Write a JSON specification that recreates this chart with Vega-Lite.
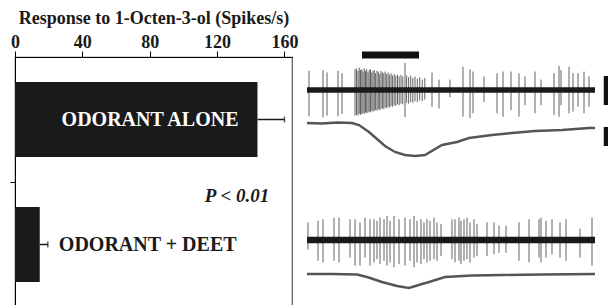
{
  "$schema": "https://vega.github.io/schema/vega-lite/v6.json",
  "background": "white",
  "padding": {"left": 8, "top": 8, "right": 0, "bottom": 0},
  "bounds": "flush",
  "spacing": 15,
  "config": {
    "view": {"stroke": null},
    "font": "Times New Roman, Liberation Serif, serif",
    "text": {"font": "Times New Roman, Liberation Serif, serif"},
    "axis": {"labelFont": "Times New Roman, Liberation Serif, serif", "titleFont": "Times New Roman, Liberation Serif, serif"}
  },
  "datasets": {
    "bars": [
      {"condition": "ODORANT ALONE", "mean": 144, "hi": 160},
      {"condition": "ODORANT + DEET", "mean": 14.7, "hi": 19.5}
    ],
    "baselineA": [{"t0": 0, "t1": 2880, "lo": -0.17, "hi": 0.17}],
    "baselineC": [{"t0": 0, "t1": 2880, "lo": -0.2, "hi": 0.2}],
    "stimulus": [{"start": 550, "end": 1120, "level": 2.19}],
    "scaleA": [{"t": 2995, "top": 0.875, "bottom": -0.94}],
    "scaleB": [{"t": 2995, "top": -0.4, "bottom": -2.3}],
    "spikesA": [
      {"t": 20, "up": 1.2, "down": -1.65}, {"t": 160, "up": 1.25, "down": -1.7}, {"t": 200, "up": 1.1, "down": -1.6},
      {"t": 310, "up": 1.2, "down": -1.65}, {"t": 350, "up": 1.05, "down": -1.5},
      {"t": 480, "up": 1.3, "down": -1.6}, {"t": 495, "up": 1.35, "down": -1.55}, {"t": 510, "up": 1.2, "down": -1.6},
      {"t": 522, "up": 1.4, "down": -1.5}, {"t": 535, "up": 1.25, "down": -1.55}, {"t": 548, "up": 1.3, "down": -1.5},
      {"t": 560, "up": 1.15, "down": -1.45}, {"t": 572, "up": 1.35, "down": -1.5}, {"t": 585, "up": 1.2, "down": -1.4},
      {"t": 597, "up": 1.3, "down": -1.45}, {"t": 610, "up": 1.1, "down": -1.4}, {"t": 622, "up": 1.25, "down": -1.35},
      {"t": 635, "up": 1.3, "down": -1.4}, {"t": 648, "up": 1.1, "down": -1.3}, {"t": 660, "up": 1.2, "down": -1.35},
      {"t": 673, "up": 1.25, "down": -1.3}, {"t": 686, "up": 1.05, "down": -1.25}, {"t": 700, "up": 1.2, "down": -1.3},
      {"t": 713, "up": 1.15, "down": -1.2}, {"t": 727, "up": 1.0, "down": -1.25}, {"t": 740, "up": 1.2, "down": -1.2},
      {"t": 754, "up": 1.1, "down": -1.15}, {"t": 768, "up": 1.05, "down": -1.2}, {"t": 782, "up": 1.15, "down": -1.1},
      {"t": 797, "up": 1.0, "down": -1.15}, {"t": 811, "up": 1.1, "down": -1.05}, {"t": 826, "up": 0.95, "down": -1.1},
      {"t": 841, "up": 1.05, "down": -1.0}, {"t": 856, "up": 0.9, "down": -1.05}, {"t": 872, "up": 1.0, "down": -0.95},
      {"t": 888, "up": 0.9, "down": -1.0}, {"t": 905, "up": 0.95, "down": -0.9}, {"t": 922, "up": 0.85, "down": -0.95},
      {"t": 940, "up": 0.95, "down": -0.85}, {"t": 958, "up": 0.85, "down": -0.9}, {"t": 980, "up": 1.69, "down": -1.69},
      {"t": 996, "up": 0.9, "down": -0.8}, {"t": 1016, "up": 0.8, "down": -0.85}, {"t": 1037, "up": 0.9, "down": -0.75},
      {"t": 1058, "up": 0.75, "down": -0.8}, {"t": 1080, "up": 0.85, "down": -0.7}, {"t": 1103, "up": 0.7, "down": -0.75},
      {"t": 1127, "up": 0.8, "down": -0.65}, {"t": 1152, "up": 0.65, "down": -0.7}, {"t": 1178, "up": 0.75, "down": -0.6},
      {"t": 1250, "up": 1.1, "down": -1.05}, {"t": 1320, "up": 0.65, "down": -1.15}, {"t": 1430, "up": 0.65, "down": -0.45},
      {"t": 1560, "up": 1.45, "down": -1.67}, {"t": 1630, "up": 1.3, "down": -1.77}, {"t": 1660, "up": 1.15, "down": -1.45},
      {"t": 1770, "up": 0.85, "down": -0.75}, {"t": 1900, "up": 1.05, "down": -1.45}, {"t": 1960, "up": 1.15, "down": -1.67},
      {"t": 2040, "up": 1.15, "down": -1.25}, {"t": 2120, "up": 1.05, "down": -1.67}, {"t": 2180, "up": 0.85, "down": -0.95},
      {"t": 2280, "up": 1.15, "down": -1.45}, {"t": 2340, "up": 0.65, "down": -0.95}, {"t": 2470, "up": 1.05, "down": -1.56},
      {"t": 2520, "up": 1.5, "down": -1.67}, {"t": 2540, "up": 1.25, "down": -0.95}, {"t": 2620, "up": 1.46, "down": -1.46},
      {"t": 2660, "up": 1.05, "down": -1.35}, {"t": 2710, "up": 1.05, "down": -1.05}, {"t": 2770, "up": 1.15, "down": -1.46},
      {"t": 2820, "up": 0.85, "down": -1.05}
    ],
    "spikesC": [
      {"t": 10, "up": 1.1, "down": -0.6}, {"t": 110, "up": 1.2, "down": -1.3}, {"t": 160, "up": 1.3, "down": -1.4},
      {"t": 270, "up": 1.4, "down": -1.3}, {"t": 320, "up": 1.4, "down": -1.4}, {"t": 430, "up": 1.3, "down": -1.1},
      {"t": 480, "up": 1.3, "down": -1.6}, {"t": 530, "up": 1.1, "down": -1.6}, {"t": 580, "up": 1.4, "down": -1.1},
      {"t": 630, "up": 1.3, "down": -1.6}, {"t": 670, "up": 1.3, "down": -1.4}, {"t": 700, "up": 1.2, "down": -1.2},
      {"t": 730, "up": 1.4, "down": -1.5}, {"t": 770, "up": 1.3, "down": -1.3}, {"t": 800, "up": 1.5, "down": -1.6},
      {"t": 830, "up": 1.2, "down": -1.4}, {"t": 870, "up": 1.5, "down": -1.7}, {"t": 920, "up": 1.3, "down": -1.5},
      {"t": 980, "up": 1.4, "down": -1.6}, {"t": 1030, "up": 1.3, "down": -1.3}, {"t": 1070, "up": 1.5, "down": -1.7},
      {"t": 1100, "up": 1.2, "down": -1.4}, {"t": 1140, "up": 1.3, "down": -1.5}, {"t": 1170, "up": 1.1, "down": -1.2},
      {"t": 1200, "up": 1.3, "down": -1.4}, {"t": 1230, "up": 1.2, "down": -1.3}, {"t": 1270, "up": 1.4, "down": -1.2},
      {"t": 1300, "up": 1.1, "down": -1.3}, {"t": 1340, "up": 1.0, "down": -1.0}, {"t": 1450, "up": 1.3, "down": -1.2},
      {"t": 1480, "up": 1.3, "down": -1.4}, {"t": 1520, "up": 1.4, "down": -1.3}, {"t": 1540, "up": 1.2, "down": -1.5},
      {"t": 1570, "up": 1.3, "down": -1.3}, {"t": 1600, "up": 1.4, "down": -1.2}, {"t": 1630, "up": 1.1, "down": -1.4},
      {"t": 1670, "up": 1.3, "down": -1.1}, {"t": 1700, "up": 1.0, "down": -1.0}, {"t": 1800, "up": 1.1, "down": -1.0},
      {"t": 1870, "up": 1.1, "down": -0.9}, {"t": 1920, "up": 0.9, "down": -0.8}, {"t": 1990, "up": 0.9, "down": -0.8},
      {"t": 2120, "up": 1.1, "down": -1.3}, {"t": 2220, "up": 1.3, "down": -1.4}, {"t": 2320, "up": 1.3, "down": -1.1},
      {"t": 2340, "up": 1.4, "down": -1.4}, {"t": 2390, "up": 1.2, "down": -1.1}, {"t": 2450, "up": 1.3, "down": -0.9},
      {"t": 2530, "up": 1.1, "down": -1.1}, {"t": 2590, "up": 1.3, "down": -1.3}, {"t": 2730, "up": 0.7, "down": -1.1},
      {"t": 2850, "up": 1.4, "down": -1.6}
    ],
    "slowA": [
      {"t": 0, "v": 0}, {"t": 150, "v": -0.05}, {"t": 300, "v": 0.05}, {"t": 450, "v": 0}, {"t": 520, "v": -0.2},
      {"t": 620, "v": -0.9}, {"t": 700, "v": -1.6}, {"t": 780, "v": -2.3}, {"t": 880, "v": -2.9}, {"t": 980, "v": -3.2},
      {"t": 1080, "v": -3.3}, {"t": 1180, "v": -3.2}, {"t": 1350, "v": -2.2}, {"t": 1500, "v": -1.9}, {"t": 1620, "v": -1.5},
      {"t": 1850, "v": -1.2}, {"t": 2050, "v": -1.0}, {"t": 2280, "v": -0.8}, {"t": 2550, "v": -0.7}, {"t": 2820, "v": -0.5},
      {"t": 2880, "v": -0.5}
    ],
    "slowC": [
      {"t": 0, "v": 0}, {"t": 250, "v": 0}, {"t": 500, "v": -0.05}, {"t": 600, "v": -0.3}, {"t": 750, "v": -0.8},
      {"t": 900, "v": -1.2}, {"t": 1020, "v": -1.4}, {"t": 1150, "v": -1.0}, {"t": 1220, "v": -0.8}, {"t": 1380, "v": -0.3},
      {"t": 1650, "v": -0.15}, {"t": 1950, "v": -0.1}, {"t": 2350, "v": -0.05}, {"t": 2880, "v": 0}
    ]
  },
  "hconcat": [
    {
      "width": 277,
      "height": 250,
      "view": {"stroke": "#555", "strokeWidth": 1.2},
      "data": {"name": "bars"},
      "encoding": {
        "y": {
          "field": "condition", "type": "nominal",
          "scale": {"domain": ["ODORANT ALONE", "ODORANT + DEET"], "paddingInner": 0.4, "paddingOuter": 0.2},
          "axis": {"values": ["ODORANT + DEET"], "bandPosition": -0.3333, "labels": false, "title": null, "domainColor": "black", "tickColor": "black", "tickSize": 5, "grid": false}
        }
      },
      "layer": [
        {
          "mark": {"type": "bar", "color": "#1a1a1a"},
          "encoding": {
            "x": {
              "field": "mean", "type": "quantitative",
              "scale": {"domain": [0, 164.5], "nice": false},
              "axis": {
                "orient": "top", "values": [0, 20, 40, 60, 80, 100, 120, 140, 160],
                "labelExpr": "datum.value % 40 === 0 ? datum.label : ''",
                "title": "Response to 1-Octen-3-ol (Spikes/s)",
                "titleFontSize": 18, "titleFontWeight": "bold", "titleColor": "#1a1a1a", "titlePadding": 6,
                "labelFontSize": 18, "labelFontWeight": "bold", "labelColor": "#1a1a1a", "labelPadding": 0,
                "labelFlush": false, "labelOverlap": false,
                "tickSize": 6, "tickColor": "black", "domainColor": "black", "grid": false
              }
            }
          }
        },
        {
          "mark": {"type": "rule", "strokeWidth": 1.5, "color": "#1a1a1a"},
          "encoding": {"x": {"field": "mean", "type": "quantitative"}, "x2": {"field": "hi"}}
        },
        {
          "mark": {"type": "tick", "orient": "vertical", "size": 6, "thickness": 1.5, "color": "#1a1a1a"},
          "encoding": {"x": {"field": "hi", "type": "quantitative"}}
        },
        {
          "transform": [{"filter": "datum.condition === 'ODORANT ALONE'"}],
          "mark": {"type": "text", "align": "right", "baseline": "middle", "dx": -19, "color": "white", "fontSize": 20, "fontWeight": "bold"},
          "encoding": {"x": {"field": "mean", "type": "quantitative"}, "text": {"field": "condition"}}
        },
        {
          "transform": [{"filter": "datum.condition === 'ODORANT + DEET'"}],
          "mark": {"type": "text", "align": "left", "baseline": "middle", "dx": 11, "color": "#1a1a1a", "fontSize": 20, "fontWeight": "bold"},
          "encoding": {"x": {"field": "hi", "type": "quantitative"}, "text": {"field": "condition"}}
        },
        {
          "data": {"values": [{"note": "P < 0.01"}]},
          "mark": {"type": "text", "align": "right", "baseline": "alphabetic", "fontStyle": "italic", "fontWeight": "bold", "fontSize": 19, "color": "#1a1a1a"},
          "encoding": {
            "x": {"datum": 151, "type": "quantitative"},
            "y": {"datum": "ODORANT + DEET", "type": "nominal", "bandPosition": -0.07},
            "text": {"field": "note"}
          }
        }
      ]
    },
    {
      "vconcat": [
        {
          "width": 303, "height": 64,
          "layer": [
            {
              "data": {"name": "spikesA"},
              "mark": {"type": "rule", "strokeWidth": 0.8, "color": "#3a3a3a"},
              "encoding": {
                "x": {"field": "t", "type": "quantitative", "scale": {"domain": [0, 3030], "nice": false}, "axis": null},
                "y": {"field": "up", "type": "quantitative", "scale": {"domain": [-1.9375, 2.0625], "nice": false, "zero": false}, "axis": null},
                "y2": {"field": "down"}
              }
            },
            {
              "data": {"name": "baselineA"},
              "mark": {"type": "rect", "color": "#1a1a1a"},
              "encoding": {
                "x": {"field": "t0", "type": "quantitative"}, "x2": {"field": "t1"},
                "y": {"field": "lo", "type": "quantitative"}, "y2": {"field": "hi"}
              }
            },
            {
              "data": {"name": "stimulus"},
              "mark": {"type": "rule", "strokeWidth": 7, "color": "#111"},
              "encoding": {
                "x": {"field": "start", "type": "quantitative"}, "x2": {"field": "end"},
                "y": {"field": "level", "type": "quantitative"}
              }
            },
            {
              "data": {"name": "scaleA"},
              "mark": {"type": "rule", "strokeWidth": 5.5, "color": "#111"},
              "encoding": {
                "x": {"field": "t", "type": "quantitative"},
                "y": {"field": "top", "type": "quantitative"}, "y2": {"field": "bottom"}
              }
            }
          ]
        },
        {
          "width": 303, "height": 40,
          "layer": [
            {
              "data": {"name": "slowA"},
              "mark": {"type": "line", "strokeWidth": 2.4, "color": "#555"},
              "encoding": {
                "x": {"field": "t", "type": "quantitative", "scale": {"domain": [0, 3030], "nice": false}, "axis": null},
                "y": {"field": "v", "type": "quantitative", "scale": {"domain": [-3.8, 0.2], "nice": false, "zero": false}, "axis": null}
              }
            },
            {
              "data": {"name": "scaleB"},
              "mark": {"type": "rule", "strokeWidth": 5.5, "color": "#111"},
              "encoding": {
                "x": {"field": "t", "type": "quantitative"},
                "y": {"field": "top", "type": "quantitative"}, "y2": {"field": "bottom"}
              }
            }
          ]
        },
        {
          "width": 303, "height": 110,
          "layer": [
            {
              "data": {"name": "spikesC"},
              "mark": {"type": "rule", "strokeWidth": 0.8, "color": "#3a3a3a"},
              "encoding": {
                "x": {"field": "t", "type": "quantitative", "scale": {"domain": [0, 3030], "nice": false}, "axis": null},
                "y": {"field": "up", "type": "quantitative", "scale": {"domain": [-1.9375, 4.9375], "nice": false, "zero": false}, "axis": null},
                "y2": {"field": "down"}
              }
            },
            {
              "data": {"name": "baselineC"},
              "mark": {"type": "rect", "color": "#1a1a1a"},
              "encoding": {
                "x": {"field": "t0", "type": "quantitative"}, "x2": {"field": "t1"},
                "y": {"field": "lo", "type": "quantitative"}, "y2": {"field": "hi"}
              }
            }
          ]
        },
        {
          "width": 303, "height": 33,
          "data": {"name": "slowC"},
          "mark": {"type": "line", "strokeWidth": 2.4, "color": "#555"},
          "encoding": {
            "x": {"field": "t", "type": "quantitative", "scale": {"domain": [0, 3030], "nice": false}, "axis": null},
            "y": {"field": "v", "type": "quantitative", "scale": {"domain": [-3.0, 0.3], "nice": false, "zero": false}, "axis": null}
          }
        }
      ],
      "spacing": 0,
      "bounds": "flush"
    }
  ]
}
